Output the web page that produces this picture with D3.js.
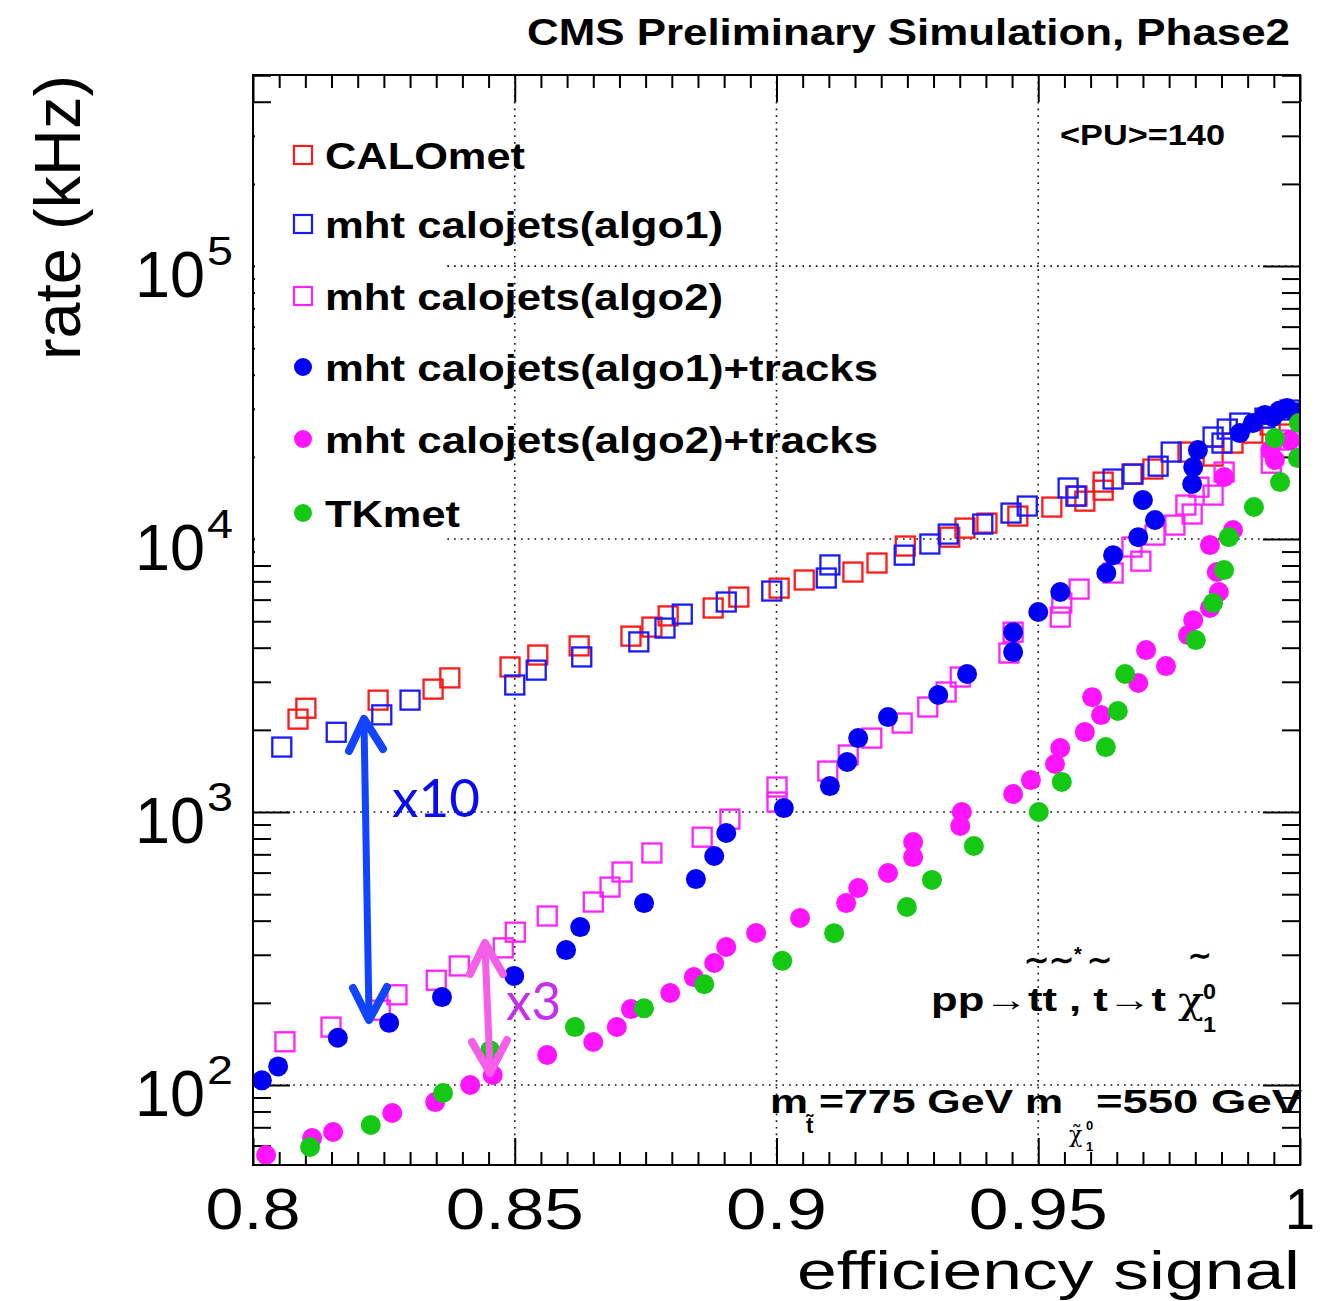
<!DOCTYPE html>
<html><head><meta charset="utf-8">
<script src="https://cdn.jsdelivr.net/npm/d3@7"></script>
<style>body{margin:0;background:#fff}svg{display:block}</style>
</head><body>
<svg id="c" width="1331" height="1301"></svg>
<script>
// ---------- data ----------
const xTicks = [0.8, 0.85, 0.9, 0.95, 1.0];
const xTickLabels = ["0.8", "0.85", "0.9", "0.95", "1"];
const yTicks = [1e2, 1e3, 1e4, 1e5];
const yTickExponents = ["2", "3", "4", "5"];
const seriesNames = ["CALOmet", "mht calojets(algo1)", "mht calojets(algo2)",
  "mht calojets(algo1)+tracks", "mht calojets(algo2)+tracks", "TKmet"];

// [efficiency signal, rate (kHz)]
const caloMet = [[0.8086,2190],[0.8101,2400],[0.8239,2570],[0.8344,2820],[0.8376,3100],[0.8491,3400],[0.8544,3760],[0.8623,4060],[0.8722,4410],[0.8762,4760],[0.8793,5230],[0.8879,5590],[0.8928,6130],[0.9005,6610],[0.9053,7080],[0.9146,7570],[0.9192,8170],[0.9246,9430],[0.9331,10160],[0.9360,10970],[0.9402,11440],[0.9461,12140],[0.9526,13100],[0.9574,14370],[0.9589,13770],[0.9624,16170],[0.9624,15100],[0.9679,17300],[0.9719,18050],[0.9786,20830],[0.9834,20140],[0.9872,22470],[0.9910,24440],[0.9943,26160],[0.9971,28470]];
const mhtAlgo1 = [[0.8055,1730],[0.8159,1960],[0.8246,2270],[0.8300,2570],[0.8500,2920],[0.8541,3310],[0.8628,3700],[0.8737,4200],[0.8787,4720],[0.8820,5310],[0.8904,5880],[0.8991,6450],[0.9095,7200],[0.9102,8040],[0.9244,8730],[0.9293,9590],[0.9328,10430],[0.9394,11350],[0.9448,12450],[0.9479,13210],[0.9557,15380],[0.9572,14370],[0.9643,16590],[0.9681,17300],[0.9729,18490],[0.9754,20830],[0.9834,23640],[0.9851,22470],[0.9861,25290],[0.9885,26600],[0.9933,27730],[0.9981,29690]];
const mhtAlgo2 = [[0.8061,144],[0.8149,163],[0.8243,188],[0.8275,214],[0.8350,242],[0.8394,273],[0.8478,318],[0.8501,363],[0.8562,416],[0.8650,468],[0.8682,531],[0.8705,603],[0.8762,708],[0.8858,809],[0.8911,942],[0.9001,1088],[0.9001,1235],[0.9098,1413],[0.9137,1618],[0.9182,1866],[0.9240,2118],[0.9289,2425],[0.9324,2752],[0.9351,3123],[0.9444,3823],[0.9452,4560],[0.9542,5176],[0.9545,5830],[0.9578,6557],[0.9643,7508],[0.9696,8300],[0.9679,9348],[0.9723,10340],[0.9761,11250],[0.9794,12350],[0.9782,13320],[0.9834,14490],[0.9807,15490],[0.9855,17600],[0.9945,18970],[0.9981,23050]];
const mhtAlgo1Tracks = [[0.8017,104],[0.8048,117],[0.8162,149],[0.8260,169],[0.8361,210],[0.8499,251],[0.8598,312],[0.8625,379],[0.8747,464],[0.8846,568],[0.8881,690],[0.8904,838],[0.9014,1034],[0.9102,1245],[0.9135,1525],[0.9156,1866],[0.9213,2228],[0.9309,2683],[0.9364,3203],[0.9452,3855],[0.9452,4560],[0.9500,5403],[0.9542,6397],[0.9630,7508],[0.9643,8730],[0.9691,10160],[0.9723,11740],[0.9700,13900],[0.9794,15910],[0.9796,18350],[0.9805,21180],[0.9885,24440],[0.9910,26600],[0.9933,28500],[0.9948,27990],[0.9960,29500],[0.9975,30200],[0.9990,29170]];
const mhtAlgo2Tracks = [[0.8025,55.4],[0.8113,63.9],[0.8153,67.3],[0.8266,79],[0.8348,86.6],[0.8415,100],[0.8458,108.8],[0.8562,128.8],[0.8650,143.7],[0.8695,163.1],[0.8722,189.7],[0.8797,217.3],[0.8842,248.6],[0.8881,279.9],[0.8904,320.3],[0.8961,360.5],[0.9045,409],[0.9133,464],[0.9156,526.7],[0.9213,597.8],[0.9261,684],[0.9261,776],[0.9351,888.6],[0.9354,1000],[0.9452,1164],[0.9486,1309],[0.9532,1499],[0.9542,1716],[0.9589,1963],[0.9620,2266],[0.9603,2636],[0.9691,2969],[0.9744,3426],[0.9706,3921],[0.9786,4449],[0.9796,5047],[0.9828,5590],[0.9845,6397],[0.9841,7574],[0.9828,9506],[0.9872,10790],[0.9855,16870],[0.9943,21180],[0.9952,19500],[0.9981,23050]];
const tkMet = [[0.8109,59.3],[0.8225,71.4],[0.8363,93.5],[0.8453,134],[0.8615,163],[0.8747,191],[0.8862,234],[0.9011,285],[0.9110,360],[0.9249,449],[0.9297,564],[0.9377,751],[0.9501,1000],[0.9545,1289],[0.9629,1730],[0.9652,2344],[0.9666,3203],[0.9801,4266],[0.9834,5830],[0.9855,7697],[0.9864,10160],[0.9912,13100],[0.9962,16170],[0.9996,19800],[0.9952,23440],[0.9998,26600]];

// ---------- layout ----------
const svg = d3.select("#c");
const M = {l:253, r:1300, t:75, b:1165};
const x = d3.scaleLinear().domain([0.8, 1.0]).range([M.l, M.r]);
const y = d3.scaleLog().domain([Math.pow(10,1.707), Math.pow(10,5.7)]).range([M.b, M.t]);
const FONT = "'Liberation Sans', Arial, Helvetica, sans-serif";
const SERIF = "'DejaVu Serif', 'Liberation Serif', serif";

const series = [
  {name: seriesNames[0], data: caloMet,        color: "#ff1a1a", shape: "square"},
  {name: seriesNames[1], data: mhtAlgo1,       color: "#1a1aff", shape: "square"},
  {name: seriesNames[2], data: mhtAlgo2,       color: "#ff22ff", shape: "square"},
  {name: seriesNames[3], data: mhtAlgo1Tracks, color: "#0000f5", shape: "circle"},
  {name: seriesNames[4], data: mhtAlgo2Tracks, color: "#ff14ff", shape: "circle"},
  {name: seriesNames[5], data: tkMet,          color: "#14c814", shape: "circle"}
];

svg.append("rect").attr("width",1331).attr("height",1301).attr("fill","#fff");

// ---------- grid ----------
const grid = svg.append("g").attr("stroke","#111").attr("stroke-width",1.6).attr("stroke-dasharray","1.7,5");
grid.selectAll("line.vx").data(xTicks.slice(1,-1)).join("line")
  .attr("x1",d=>x(d)).attr("x2",d=>x(d)).attr("y1",M.t).attr("y2",M.b);
grid.selectAll("line.hy").data(yTicks).join("line")
  .attr("x1",M.l).attr("x2",M.r).attr("y1",d=>y(d)).attr("y2",d=>y(d));

// ---------- axes (ticks inside) ----------
const minorX = d3.range(0.805, 1.0, 0.005).filter(v => Math.abs(v/0.05 - Math.round(v/0.05)) > 1e-6);
const minorY = [];
for (let e = 1; e <= 5; e++) for (let k = 2; k <= 9; k++) { const v = k*Math.pow(10,e); if (v >= y.domain()[0] && v <= y.domain()[1]) minorY.push(v); }

function styleAxis(g){ g.select(".domain").remove(); g.selectAll("line").attr("stroke","#000").attr("stroke-width",2); g.selectAll("text").remove(); }
svg.append("g").attr("transform",`translate(0,${M.b})`).call(d3.axisBottom(x).tickValues(xTicks).tickSize(-27)).call(styleAxis);
svg.append("g").attr("transform",`translate(0,${M.b})`).call(d3.axisBottom(x).tickValues(minorX).tickSize(-13)).call(styleAxis);
svg.append("g").attr("transform",`translate(0,${M.t})`).call(d3.axisTop(x).tickValues(xTicks).tickSize(-27)).call(styleAxis);
svg.append("g").attr("transform",`translate(0,${M.t})`).call(d3.axisTop(x).tickValues(minorX).tickSize(-13)).call(styleAxis);
svg.append("g").attr("transform",`translate(${M.l},0)`).call(d3.axisLeft(y).tickValues(yTicks).tickSize(-37)).call(styleAxis);
svg.append("g").attr("transform",`translate(${M.l},0)`).call(d3.axisLeft(y).tickValues(minorY).tickSize(-18)).call(styleAxis);
svg.append("g").attr("transform",`translate(${M.r},0)`).call(d3.axisRight(y).tickValues(yTicks).tickSize(-37)).call(styleAxis);
svg.append("g").attr("transform",`translate(${M.r},0)`).call(d3.axisRight(y).tickValues(minorY).tickSize(-18)).call(styleAxis);

// tick labels
const xLabW = [95,138,101,139,30];
svg.append("g").selectAll("text").data(xTicks).join("text")
  .attr("x",d=>x(d)).attr("y",1229).attr("text-anchor","middle")
  .attr("font-family",FONT).attr("font-size",57)
  .attr("textLength",(d,i)=>xLabW[i]).attr("lengthAdjust","spacingAndGlyphs")
  .text((d,i)=>xTickLabels[i]);
const yl = svg.append("g");
yl.selectAll("text.b").data(yTicks).join("text")
  .attr("x",205).attr("y",d=>y(d)+31).attr("text-anchor","end")
  .attr("font-family",FONT).attr("font-size",64)
  .attr("textLength",70).attr("lengthAdjust","spacingAndGlyphs").text("10");
yl.selectAll("text.e").data(yTicks).join("text")
  .attr("x",207).attr("y",d=>y(d)-1)
  .attr("font-family",FONT).attr("font-size",40)
  .attr("textLength",26).attr("lengthAdjust","spacingAndGlyphs").text((d,i)=>yTickExponents[i]);

// axis titles
svg.append("text").attr("x",1300).attr("y",1289).attr("text-anchor","end")
  .attr("font-family",FONT).attr("font-size",54)
  .attr("textLength",503).attr("lengthAdjust","spacingAndGlyphs").text("efficiency signal");
svg.append("text").attr("transform","translate(80,75) rotate(-90)").attr("text-anchor","end")
  .attr("font-family",FONT).attr("font-size",64)
  .attr("textLength",285).attr("lengthAdjust","spacingAndGlyphs").text("rate (kHz)");

// legend box (white, hides grid)
svg.append("rect").attr("x",255).attr("y",108).attr("width",190).attr("height",452).attr("fill","#fff");

// ---------- data markers ----------
svg.append("clipPath").attr("id","clip").append("rect")
  .attr("x",M.l).attr("y",M.t).attr("width",M.r-M.l).attr("height",M.b-M.t);
const plot = svg.append("g").attr("clip-path","url(#clip)");
const SQ = 19, R = 10;
series.forEach(s => {
  const g = plot.append("g");
  if (s.shape === "square") {
    g.selectAll("rect").data(s.data).join("rect")
      .attr("x",d=>x(d[0])-SQ/2).attr("y",d=>y(d[1])-SQ/2)
      .attr("width",SQ).attr("height",SQ)
      .attr("fill","none").attr("stroke",s.color).attr("stroke-width",2.3);
  } else {
    g.selectAll("circle").data(s.data).join("circle")
      .attr("cx",d=>x(d[0])).attr("cy",d=>y(d[1])).attr("r",R)
      .attr("fill",s.color);
  }
});

// frame
svg.append("rect").attr("x",M.l).attr("y",M.t).attr("width",M.r-M.l).attr("height",M.b-M.t)
  .attr("fill","none").attr("stroke","#000").attr("stroke-width",2);

// ---------- legend ----------
const legW = [200,398,398,553,553,135];
const legBase = [169,238,310,381,453,527];
const leg = svg.append("g");
series.forEach((s,i) => {
  const cy = legBase[i]-14;
  if (s.shape === "square") {
    leg.append("rect").attr("x",303-9).attr("y",cy-9).attr("width",18).attr("height",18)
      .attr("fill","none").attr("stroke",s.color).attr("stroke-width",2.2);
  } else {
    leg.append("circle").attr("cx",303).attr("cy",cy).attr("r",9).attr("fill",s.color);
  }
  leg.append("text").attr("x",325).attr("y",legBase[i])
    .attr("font-family",FONT).attr("font-weight","bold").attr("font-size",37)
    .attr("textLength",legW[i]).attr("lengthAdjust","spacingAndGlyphs").text(s.name);
});

// ---------- header texts ----------
svg.append("text").attr("x",1290).attr("y",45).attr("text-anchor","end")
  .attr("font-family",FONT).attr("font-weight","bold").attr("font-size",36)
  .attr("textLength",763).attr("lengthAdjust","spacingAndGlyphs").text("CMS Preliminary Simulation, Phase2");
svg.append("text").attr("x",1060).attr("y",145)
  .attr("font-family",FONT).attr("font-weight","bold").attr("font-size",30)
  .attr("textLength",165).attr("lengthAdjust","spacingAndGlyphs").text("<PU>=140");

// physics process text
function T(xp, yp, str, size, opts={}) {
  const t = svg.append("text").attr("x",xp).attr("y",yp)
    .attr("font-family",opts.family || FONT).attr("font-weight",opts.weight || "bold")
    .attr("font-size",size).text(str);
  if (opts.len) t.attr("textLength",opts.len).attr("lengthAdjust","spacingAndGlyphs");
  return t;
}
T(931,1011,"pp\u2192tt , t\u2192t",34,{len:235});
T(1178,1013,"\u03c7",38,{family:SERIF,weight:"normal",len:26});
T(1203,999,"0",22,{len:13});
T(1203,1032,"1",22,{len:13});
const tl = svg.append("text").attr("y",970).attr("font-family",FONT).attr("font-weight","bold").attr("font-size",30);
tl.append("tspan").attr("x",1024).text("\u223c\u223c");
tl.append("tspan").attr("dy",-9).attr("font-size",20).text("*");
tl.append("tspan").attr("x",1087).attr("dy",9).text("\u223c");
tl.append("tspan").attr("x",1188).attr("dy",-5).attr("font-size",28).text("\u223c");
// mass line
const ml = svg.append("text").attr("x",770).attr("y",1113).attr("font-family",FONT).attr("font-weight","bold").attr("font-size",34);
ml.append("tspan").text("m");
ml.append("tspan").attr("x",806).attr("dy",20).attr("font-size",22).text("t\u0303");
ml.append("tspan").attr("x",819).attr("dy",-20).text("=775 GeV m");
ml.append("tspan").attr("x",1069).attr("dy",29).attr("font-size",22).attr("font-family",SERIF).attr("font-weight","normal").text("\u03c7\u0303");
ml.append("tspan").attr("x",1086).attr("dy",-12).attr("font-size",13).text("0");
ml.append("tspan").attr("x",1086).attr("dy",21).attr("font-size",13).text("1");
ml.append("tspan").attr("x",1096).attr("dy",-38).text("=550 GeV");
(function stretch(){
  const ts = ml.selectAll("tspan").nodes();
  const fit = (node, w) => d3.select(node).attr("textLength",w).attr("lengthAdjust","spacingAndGlyphs");
  fit(ts[0],38); fit(ts[2],244); fit(ts[6],206);
})();

// ---------- annotation arrows ----------
const ann = svg.append("g").attr("fill","none").attr("stroke-linecap","round").attr("stroke-linejoin","round");
const line = d3.line();
ann.append("path").attr("d",line([[364,722],[369,1016]])).attr("stroke","#1144ff").attr("stroke-width",7);
ann.append("path").attr("d",line([[349,751],[364,719],[383,749]])).attr("stroke","#1144ff").attr("stroke-width",8);
ann.append("path").attr("d",line([[353,988],[369,1020],[387,987]])).attr("stroke","#1144ff").attr("stroke-width",8);
ann.append("path").attr("d",line([[485,946],[490,1069]])).attr("stroke","#f55ee8").attr("stroke-width",7);
ann.append("path").attr("d",line([[470,974],[485,943],[503,974]])).attr("stroke","#f55ee8").attr("stroke-width",8);
ann.append("path").attr("d",line([[472,1042],[490,1073],[507,1040]])).attr("stroke","#f55ee8").attr("stroke-width",8);
svg.append("text").attr("x",392).attr("y",817).attr("font-family","Lato, 'Open Sans', sans-serif")
  .attr("font-size",52).attr("fill","#0a0af0").attr("textLength",88).attr("lengthAdjust","spacingAndGlyphs").text("x10");
svg.append("text").attr("x",506).attr("y",1020).attr("font-family","Lato, 'Open Sans', sans-serif")
  .attr("font-size",52).attr("fill","#c62ff0").attr("textLength",55).attr("lengthAdjust","spacingAndGlyphs").text("x3");
</script>
</body></html>
